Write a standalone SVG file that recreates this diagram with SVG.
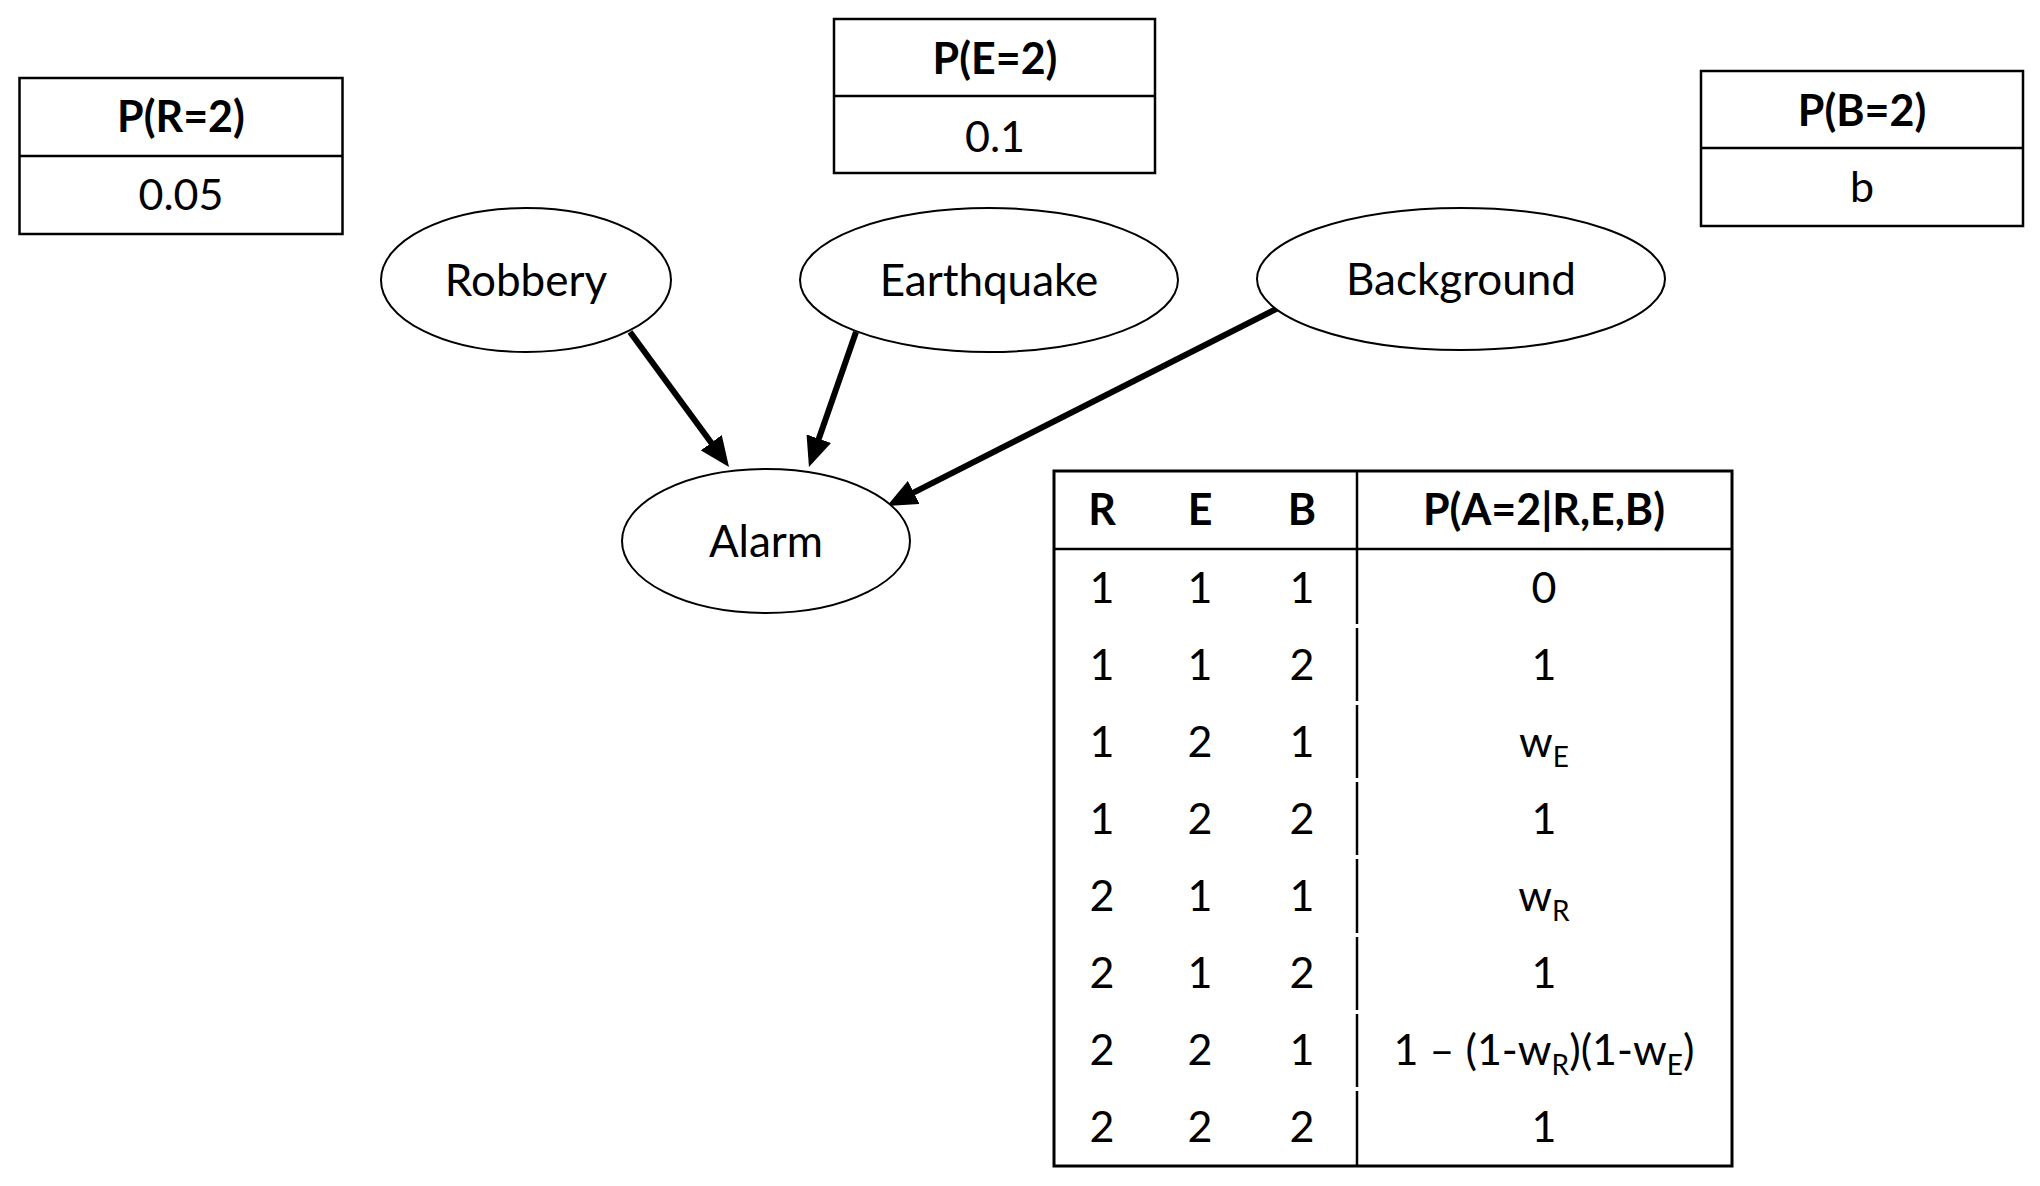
<svg xmlns="http://www.w3.org/2000/svg" width="2040" height="1186" viewBox="0 0 2040 1186">
<style>
.bg{fill:#fff}
.box{fill:#fff;stroke:#000;stroke-width:2.5}
.div{stroke:#000;stroke-width:2.5}
.node{fill:#fff;stroke:#000;stroke-width:2}
.t{font-family:Lato,"Liberation Sans",sans-serif;fill:#000;text-anchor:middle}
.lbl{font-size:44px}
.val{font-size:43px}
.hd{font-size:43px;font-weight:bold}
.sub{font-size:28px}
.edge{stroke:#000;stroke-width:6;fill:none;marker-end:url(#ah)}
</style>
<defs>
<marker id="ah" markerUnits="userSpaceOnUse" markerWidth="30" markerHeight="26" refX="18" refY="13" orient="auto">
<path d="M0,0 L30,13 L0,26 Z" fill="#000"/>
</marker>
</defs>
<rect class="bg" x="0" y="0" width="2040" height="1186"/>

<g id="cpt-R">
<rect class="box" x="19.5" y="78" width="323" height="156"/>
<line class="div" x1="19.5" y1="156" x2="342.5" y2="156"/>
<text class="t hd" x="181" y="132">P(R=2)</text>
<text class="t val" x="181" y="210">0.05</text>
</g>

<g id="cpt-E">
<rect class="box" x="834" y="19" width="321" height="154"/>
<line class="div" x1="834" y1="96" x2="1155" y2="96"/>
<text class="t hd" x="995" y="74">P(E=2)</text>
<text class="t val" x="995" y="152">0.1</text>
</g>

<g id="cpt-B">
<rect class="box" x="1701" y="71" width="322" height="155"/>
<line class="div" x1="1701" y1="148" x2="2023" y2="148"/>
<text class="t hd" x="1862" y="126">P(B=2)</text>
<text class="t val" x="1862" y="202">b</text>
</g>

<g id="edges">
<line class="edge" x1="630" y1="332" x2="721.9" y2="457.3"/>
<line class="edge" x1="856" y1="332" x2="812.9" y2="455.7"/>
<line class="edge" x1="1280" y1="307" x2="897.7" y2="500.6"/>
</g>

<g id="node-robbery">
<ellipse class="node" cx="526" cy="280" rx="145" ry="72"/>
<text class="t lbl" x="526" y="296">Robbery</text>
</g>
<g id="node-earthquake">
<ellipse class="node" cx="989" cy="280" rx="189" ry="72"/>
<text class="t lbl" x="989" y="296">Earthquake</text>
</g>
<g id="node-background">
<ellipse class="node" cx="1461" cy="279" rx="204" ry="71"/>
<text class="t lbl" x="1461" y="295">Background</text>
</g>
<g id="node-alarm">
<ellipse class="node" cx="766" cy="541" rx="144" ry="72"/>
<text class="t lbl" x="766" y="557">Alarm</text>
</g>

<g id="cpt-A">
<rect x="1054" y="471" width="678" height="695" fill="#fff" stroke="#000" stroke-width="3"/>
<line class="div" x1="1054" y1="549" x2="1732" y2="549"/>
<g stroke="#000" stroke-width="2.5">
<line x1="1357" y1="471" x2="1357" y2="549"/>
<line x1="1357" y1="549" x2="1357" y2="624"/>
<line x1="1357" y1="628" x2="1357" y2="701"/>
<line x1="1357" y1="705" x2="1357" y2="778"/>
<line x1="1357" y1="782" x2="1357" y2="855"/>
<line x1="1357" y1="859" x2="1357" y2="933"/>
<line x1="1357" y1="937" x2="1357" y2="1010"/>
<line x1="1357" y1="1014" x2="1357" y2="1087"/>
<line x1="1357" y1="1091" x2="1357" y2="1166"/>
</g>
<text class="t hd" x="1102" y="525">R</text>
<text class="t hd" x="1200" y="525">E</text>
<text class="t hd" x="1302" y="525">B</text>
<text class="t hd" x="1544" y="525">P(A=2|R,E,B)</text>

<text class="t val" x="1102" y="603">1</text><text class="t val" x="1200" y="603">1</text><text class="t val" x="1302" y="603">1</text><text class="t val" x="1544" y="603">0</text>
<text class="t val" x="1102" y="680">1</text><text class="t val" x="1200" y="680">1</text><text class="t val" x="1302" y="680">2</text><text class="t val" x="1544" y="680">1</text>
<text class="t val" x="1102" y="757">1</text><text class="t val" x="1200" y="757">2</text><text class="t val" x="1302" y="757">1</text><text class="t val" x="1544" y="757">w<tspan class="sub" dy="10">E</tspan></text>
<text class="t val" x="1102" y="834">1</text><text class="t val" x="1200" y="834">2</text><text class="t val" x="1302" y="834">2</text><text class="t val" x="1544" y="834">1</text>
<text class="t val" x="1102" y="911">2</text><text class="t val" x="1200" y="911">1</text><text class="t val" x="1302" y="911">1</text><text class="t val" x="1544" y="911">w<tspan class="sub" dy="10">R</tspan></text>
<text class="t val" x="1102" y="988">2</text><text class="t val" x="1200" y="988">1</text><text class="t val" x="1302" y="988">2</text><text class="t val" x="1544" y="988">1</text>
<text class="t val" x="1102" y="1065">2</text><text class="t val" x="1200" y="1065">2</text><text class="t val" x="1302" y="1065">1</text><text class="t val" x="1544" y="1065">1 – (1-w<tspan class="sub" dy="10">R</tspan><tspan dy="-10">)(1-w</tspan><tspan class="sub" dy="10">E</tspan><tspan dy="-10">)</tspan></text>
<text class="t val" x="1102" y="1142">2</text><text class="t val" x="1200" y="1142">2</text><text class="t val" x="1302" y="1142">2</text><text class="t val" x="1544" y="1142">1</text>
</g>
</svg>
